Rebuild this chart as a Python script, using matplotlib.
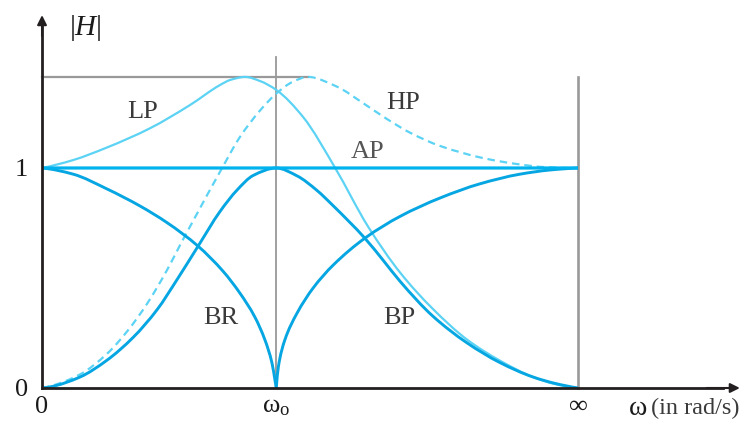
import numpy as np
import matplotlib
matplotlib.use("Agg")
import matplotlib.pyplot as plt
from matplotlib.path import Path
from matplotlib.patches import PathPatch

plt.rcParams['font.family'] = ['Liberation Serif', 'DejaVu Serif']
plt.rcParams['mathtext.fontset'] = 'custom'
plt.rcParams['mathtext.rm'] = 'Liberation Serif'
plt.rcParams['mathtext.it'] = 'Liberation Serif:italic'

# Compressed frequency axis: 0 at the origin, ω0 at W0, ∞ at 1
W0 = 0.437
PEAK = 1.414  # sqrt(2) resonance peak
x_ticks = [0.0, W0, 1.0]
x_ticklabels = ['0', 'ω$_{\\mathrm{o}}$', '∞']
y_ticks = [0, 1]
y_ticklabels = ['0', '1']

# Low-pass
lp_x = [0.0, 0.058, 0.121, 0.201, 0.276, 0.332, 0.351, 0.379, 0.407, 0.437,
        0.487, 0.547, 0.608, 0.668, 0.729, 0.793, 0.854, 0.916, 0.957, 1.0]
lp_y = [1.0, 1.036, 1.093, 1.18, 1.286, 1.377, 1.40, 1.414, 1.395, 1.355,
        1.232, 1.0, 0.735, 0.525, 0.36, 0.22, 0.125, 0.05, 0.018, 0.0]

# High-pass
hp_x = [0.0, 0.015, 0.071, 0.121, 0.159, 0.196, 0.233, 0.257, 0.282, 0.336,
        0.369, 0.407, 0.437, 0.468, 0.496, 0.550, 0.599, 0.644, 0.687, 0.743,
        0.823, 0.886, 0.938, 1.0]
hp_y = [0.0, 0.008, 0.062, 0.155, 0.258, 0.383, 0.535, 0.647, 0.76, 1.0,
        1.14, 1.262, 1.338, 1.392, 1.414, 1.37, 1.295, 1.222, 1.16, 1.10,
        1.045, 1.018, 1.004, 1.0]

# All-pass
ap_x = [0.0, 1.0]
ap_y = [1.0, 1.0]

# Band-reject (two branches meeting at the notch)
br_left_x = [0.0, 0.058, 0.121, 0.183, 0.233, 0.291, 0.338, 0.369, 0.397,
             0.416, 0.429, 0.435, 0.437]
br_left_y = [1.0, 0.972, 0.905, 0.827, 0.752, 0.645, 0.53, 0.432, 0.323,
             0.218, 0.114, 0.03, 0.0]
br_right_x = [0.437, 0.441, 0.453, 0.476, 0.506, 0.543, 0.603, 0.668, 0.743,
              0.817, 0.892, 0.948, 1.0]
br_right_y = [0.0, 0.097, 0.218, 0.341, 0.455, 0.558, 0.682, 0.78, 0.864,
              0.928, 0.972, 0.991, 1.0]

# Band-pass
bp_x = [0.0, 0.015, 0.071, 0.121, 0.170, 0.215, 0.252, 0.291, 0.332, 0.364,
        0.394, 0.437, 0.476, 0.513, 0.543, 0.603, 0.636, 0.668, 0.729, 0.793,
        0.854, 0.916, 0.957, 1.0]
bp_y = [0.0, 0.005, 0.05, 0.126, 0.23, 0.357, 0.493, 0.644, 0.802, 0.90,
        0.966, 1.0, 0.964, 0.898, 0.829, 0.679, 0.582, 0.485, 0.327, 0.205,
        0.116, 0.05, 0.021, 0.0]


def _end_slope(h0, h1, m0, m1):
    d = ((2 * h0 + h1) * m0 - h0 * m1) / (h0 + h1)
    if np.sign(d) != np.sign(m0):
        return 0.0
    if np.sign(m0) != np.sign(m1) and abs(d) > abs(3 * m0):
        return 3 * m0
    return d


def smooth_path(x, y):
    """Shape-preserving cubic (PCHIP) through the points, as Bezier segments."""
    x = np.asarray(x, float)
    y = np.asarray(y, float)
    n = len(x)
    h = np.diff(x)
    m = np.diff(y) / h
    d = np.zeros(n)
    if n == 2:
        d[:] = m[0]
    else:
        for k in range(1, n - 1):
            if m[k - 1] * m[k] > 0:
                w1 = 2 * h[k] + h[k - 1]
                w2 = h[k] + 2 * h[k - 1]
                d[k] = (w1 + w2) / (w1 / m[k - 1] + w2 / m[k])
        d[0] = _end_slope(h[0], h[1], m[0], m[1])
        d[-1] = _end_slope(h[-1], h[-2], m[-1], m[-2])
    verts = [(x[0], y[0])]
    codes = [Path.MOVETO]
    for k in range(n - 1):
        verts += [(x[k] + h[k] / 3, y[k] + d[k] * h[k] / 3),
                  (x[k + 1] - h[k] / 3, y[k + 1] - d[k + 1] * h[k] / 3),
                  (x[k + 1], y[k + 1])]
        codes += [Path.CURVE4] * 3
    return Path(verts, codes)


def draw_curve(ax, x, y, color, lw, ls='-', z=3):
    ax.add_patch(PathPatch(smooth_path(x, y), fill=False, edgecolor=color,
                           lw=lw, linestyle=ls, zorder=z, capstyle='butt'))


fig = plt.figure(figsize=(7.45, 4.21), dpi=100)
ax = fig.add_axes([0, 0, 1, 1])
ax.set_xlim(-0.0784, 1.3116)
ax.set_ylim(-0.15, 1.7636)
ax.patch.set_visible(False)

AXIS = '#231f20'
GREY = '#999999'
DEEP = '#06a6e2'
LIGHT = '#5cd3f4'

# reference lines
ax.plot([0, hp_x[int(np.argmax(hp_y))]], [PEAK, PEAK], color=GREY, lw=1.6, zorder=1)
ax.plot([W0, W0], [0, 1.505], color=GREY, lw=1.3, zorder=1)
ax.plot([1.0, 1.0], [0, PEAK], color=GREY, lw=1.9, zorder=1)

# response curves
draw_curve(ax, lp_x, lp_y, LIGHT, 1.6, z=3)
draw_curve(ax, hp_x, hp_y, LIGHT, 1.6, ls=(0, (3.4, 2.2)), z=3)
draw_curve(ax, br_left_x, br_left_y, DEEP, 2.1, z=4)
draw_curve(ax, br_right_x, br_right_y, DEEP, 2.1, z=4)
draw_curve(ax, bp_x, bp_y, DEEP, 2.1, z=4)
draw_curve(ax, ap_x, ap_y, '#00b2ee', 2.3, z=5)

# axes with arrow heads
for side in ('top', 'right'):
    ax.spines[side].set_visible(False)
ax.spines['left'].set_position(('data', 0))
ax.spines['bottom'].set_position(('data', 0))
ax.spines['left'].set_bounds(0, 1.66)
ax.spines['bottom'].set_bounds(0, 1.27)
for side in ('left', 'bottom'):
    ax.spines[side].set_color(AXIS)
    ax.spines[side].set_linewidth(2.0)
    ax.spines[side].set_zorder(6)
ax.annotate('', xy=(0, 1.695), xytext=(0, 1.6),
            arrowprops=dict(arrowstyle='-|>', color=AXIS, lw=1.5,
                            mutation_scale=14, shrinkA=0, shrinkB=0), zorder=7)
ax.annotate('', xy=(1.302, 0), xytext=(1.24, 0),
            arrowprops=dict(arrowstyle='-|>', color=AXIS, lw=1.5,
                            mutation_scale=14, shrinkA=0, shrinkB=0), zorder=7)

ax.set_xticks(x_ticks)
ax.set_xticklabels(x_ticklabels)
ax.set_yticks(y_ticks)
ax.set_yticklabels(y_ticklabels)
ax.tick_params(axis='both', length=0, labelsize=19, colors='#1a1a1a')
ax.tick_params(axis='x', pad=6)
ax.tick_params(axis='y', pad=10)

# labels
TXT = '#3a3a3a'
ax.text(0.080, 1.636, '|$H$|', fontsize=21, ha='center', va='center', color='#1a1a1a')
ax.text(1.095, -0.093, 'ω', fontsize=20, ha='left', va='center', color='#1a1a1a')
ax.text(1.137, -0.093, '(in rad/s)', fontsize=17.5, ha='left', va='center', color='#3a3a3a')
ax.text(0.187, 1.255, 'LP', fontsize=19, ha='center', va='center', color=TXT)
ax.text(0.674, 1.295, 'HP', fontsize=19, ha='center', va='center', color=TXT)
ax.text(0.608, 1.073, 'AP', fontsize=19, ha='center', va='center', color='#555555')
ax.text(0.334, 0.318, 'BR', fontsize=19, ha='center', va='center', color=TXT)
ax.text(0.666, 0.318, 'BP', fontsize=19, ha='center', va='center', color=TXT)

fig.savefig('out.png', dpi=100)
